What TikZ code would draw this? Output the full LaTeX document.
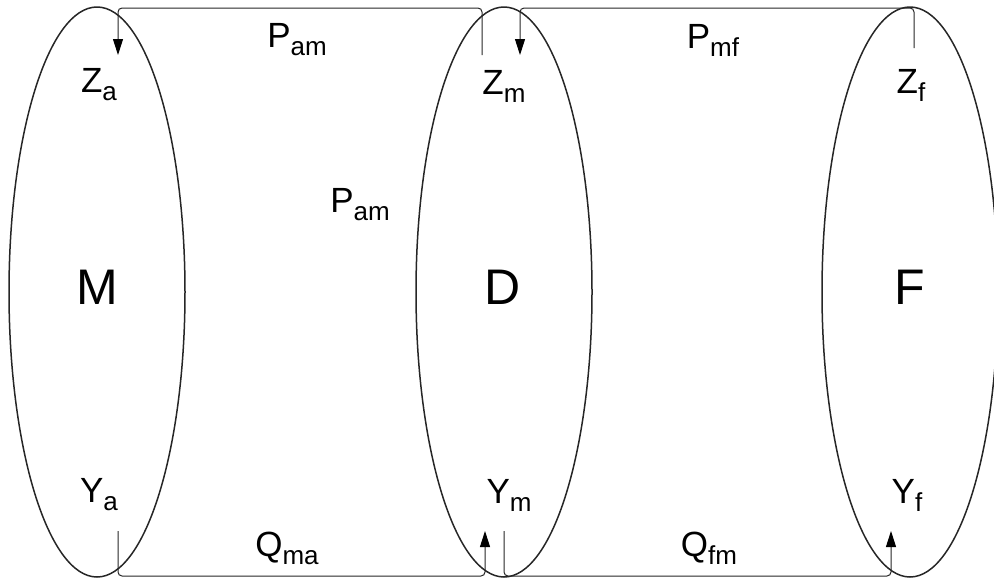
\documentclass[tikz,border=0pt]{standalone}
\usepackage{fontspec}
\setmainfont{Liberation Sans}
\usetikzlibrary{shapes.geometric,arrows.meta}
\newcommand{\lsub}[1]{\raisebox{-8pt}{\fontsize{26}{26}\selectfont #1}}
\begin{document}
\begin{tikzpicture}[
		x = 1pt, y = -1pt,
		set/.style  = {ellipse, draw=black!85, line width=1.5pt, inner sep=0pt,
			minimum width=176pt, minimum height=570pt},
		big/.style  = {inner sep=0pt, font=\fontsize{50}{50}\selectfont},
		lbl/.style  = {inner sep=0pt, font=\fontsize{35}{35}\selectfont},
		flow/.style = {draw=black!85, line width=1pt, rounded corners=4pt},
		tip/.style  = {-{Triangle[length=16pt,width=10pt,color=black]}}
		]
		\useasboundingbox (0,0) rectangle (994,582);
		
		\node[set] (M) at ( 97,292) {};
		\node[set] (D) at (504,292) {};
		\node[set] (F) at (910,292) {};
		\node[big] (m-txt) at ( 97,287) {M};
		\node[big] (d-txt) at (503,287) {D};
		\node[big] (f-txt) at (910,287) {F};
		
		\node[lbl] (za)   at ( 99, 85) {Z\lsub{a}};
		\node[lbl] (zm)   at (504, 86) {Z\lsub{m}};
		\node[lbl] (zf)   at (911, 85) {Z\lsub{f}};
		\node[lbl] (ya)   at ( 99,495) {Y\lsub{a}};
		\node[lbl] (ym)   at (509,495) {Y\lsub{m}};
		\node[lbl] (yf)   at (907,495) {Y\lsub{f}};
		
		\node[lbl] (pam)  at (297, 40) {P\lsub{am}};
		\node[lbl] (pmf)  at (713, 40) {P\lsub{mf}};
		\node[lbl] (pam2) at (360,205) {P\lsub{am}};
		\node[lbl] (qma)  at (287,548) {Q\lsub{ma}};
		\node[lbl] (qfm)  at (709,548) {Q\lsub{fm}};
		
		% connector ends
		\coordinate (zm-out) at (482, 55);
		\coordinate (za-in)  at (118, 55);
		\coordinate (zf-out) at (914, 48);
		\coordinate (zm-in)  at (520, 55);
		\coordinate (ya-out) at (118,531);
		\coordinate (ym-in)  at (485,531);
		\coordinate (ym-out) at (504,531);
		\coordinate (yf-in)  at (891,531);
		
		\draw[flow,tip] (zm-out) -- ++(0,-47) -| (za-in);
		\draw[flow,tip] (zf-out) -- ++(0,-40) -| (zm-in);
		\draw[flow,tip] (ya-out) -- ++(0, 45) -| (ym-in);
		\draw[flow,tip] (ym-out) -- ++(0, 45) -| (yf-in);
	\end{tikzpicture}
\end{document}
